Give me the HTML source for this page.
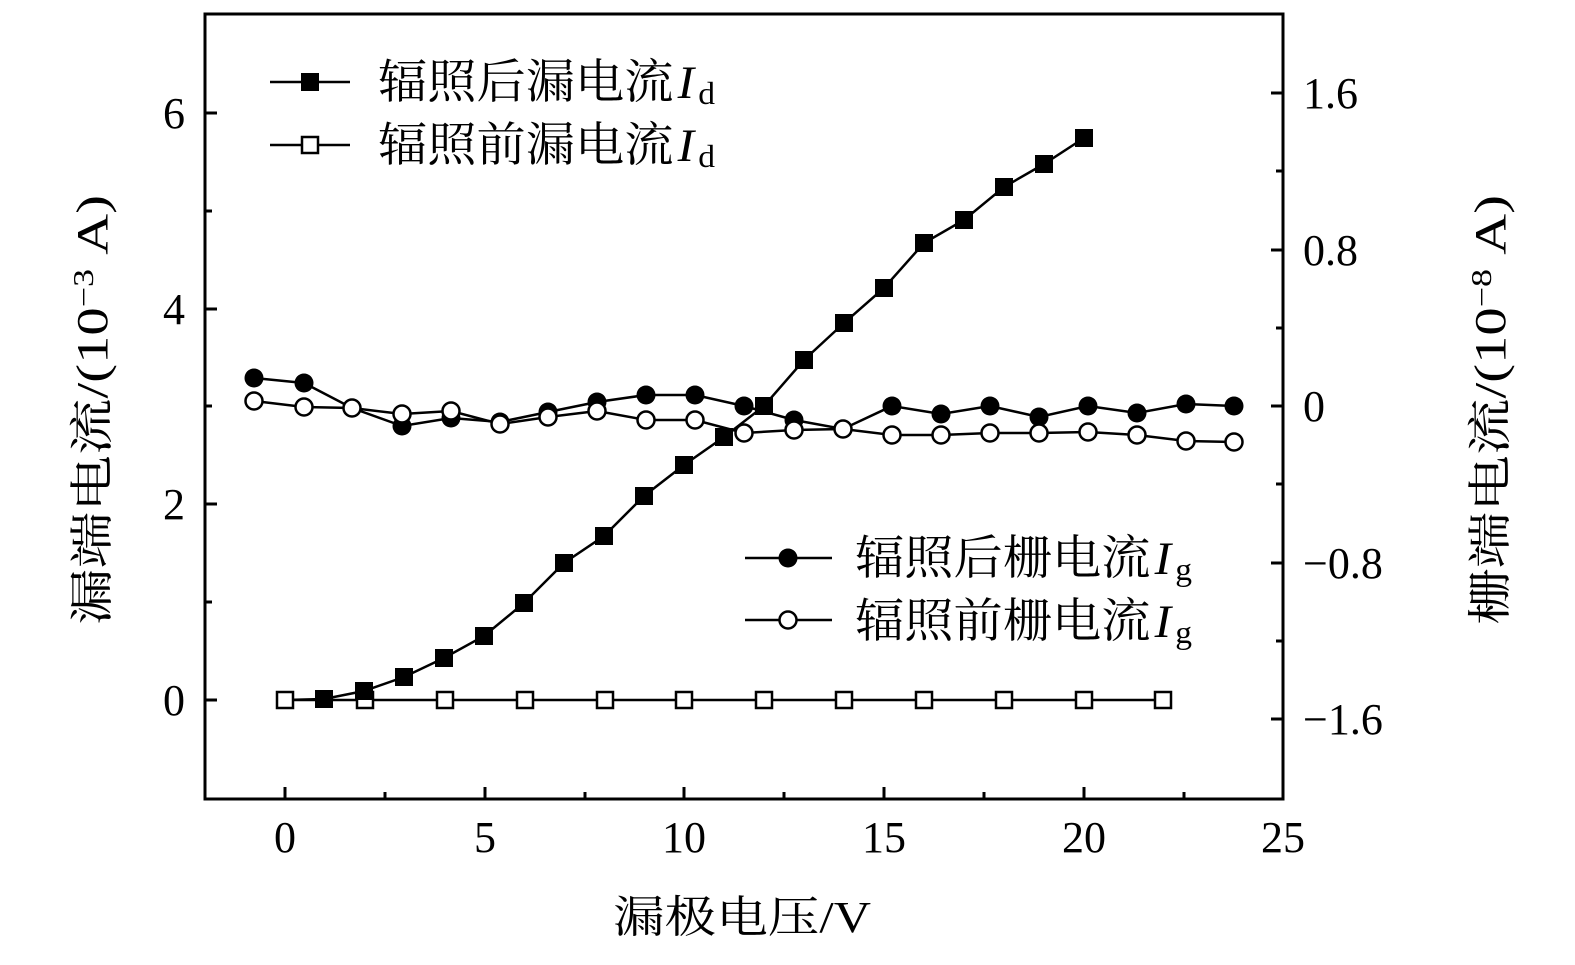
<!DOCTYPE html>
<html><head><meta charset="utf-8"><style>
html,body{margin:0;padding:0;background:#fff;}
svg{display:block;}
text{font-family:"Liberation Serif","Noto Serif CJK SC",serif;fill:#000;}
</style></head><body>
<svg width="1575" height="965" viewBox="0 0 1575 965" xmlns="http://www.w3.org/2000/svg">
<rect x="205" y="14" width="1078" height="785" fill="none" stroke="#000" stroke-width="3"/>
<g stroke="#000" stroke-width="3">
<line x1="285" y1="799" x2="285" y2="787"/><line x1="485" y1="799" x2="485" y2="787"/><line x1="684" y1="799" x2="684" y2="787"/><line x1="884" y1="799" x2="884" y2="787"/><line x1="1084" y1="799" x2="1084" y2="787"/>
<line x1="385" y1="799" x2="385" y2="792"/><line x1="585" y1="799" x2="585" y2="792"/><line x1="784" y1="799" x2="784" y2="792"/><line x1="984" y1="799" x2="984" y2="792"/><line x1="1184" y1="799" x2="1184" y2="792"/>
<line x1="205" y1="700" x2="217" y2="700"/><line x1="205" y1="504" x2="217" y2="504"/><line x1="205" y1="309" x2="217" y2="309"/><line x1="205" y1="113" x2="217" y2="113"/>
<line x1="205" y1="602" x2="212" y2="602"/><line x1="205" y1="406" x2="212" y2="406"/><line x1="205" y1="211" x2="212" y2="211"/>
<line x1="1283" y1="93" x2="1271" y2="93"/><line x1="1283" y1="250" x2="1271" y2="250"/><line x1="1283" y1="406" x2="1271" y2="406"/><line x1="1283" y1="563" x2="1271" y2="563"/><line x1="1283" y1="719" x2="1271" y2="719"/>
<line x1="1283" y1="171" x2="1276" y2="171"/><line x1="1283" y1="328" x2="1276" y2="328"/><line x1="1283" y1="484" x2="1276" y2="484"/><line x1="1283" y1="641" x2="1276" y2="641"/>
</g>
<g font-size="44">
<text x="285" y="852" text-anchor="middle">0</text><text x="485" y="852" text-anchor="middle">5</text><text x="684" y="852" text-anchor="middle">10</text><text x="884" y="852" text-anchor="middle">15</text><text x="1084" y="852" text-anchor="middle">20</text><text x="1283" y="852" text-anchor="middle">25</text>
<text x="185" y="715" text-anchor="end">0</text><text x="185" y="519" text-anchor="end">2</text><text x="185" y="324" text-anchor="end">4</text><text x="185" y="128" text-anchor="end">6</text>
<text x="1303" y="108">1.6</text><text x="1303" y="265">0.8</text><text x="1303" y="421">0</text><text x="1303" y="578">−0.8</text><text x="1303" y="734">−1.6</text>
</g>
<text x="742" y="932" font-size="44" text-anchor="middle" textLength="258" lengthAdjust="spacingAndGlyphs">漏极电压/V</text>
<text transform="translate(107,410) rotate(-90)" font-size="44" text-anchor="middle" textLength="430" lengthAdjust="spacingAndGlyphs">漏端电流/(10<tspan font-size="28" dy="-14">−3</tspan><tspan dy="14"> A)</tspan></text>
<text transform="translate(1505,410) rotate(-90)" font-size="44" text-anchor="middle" textLength="430" lengthAdjust="spacingAndGlyphs">栅端电流/(10<tspan font-size="28" dy="-14">−8</tspan><tspan dy="14"> A)</tspan></text>
<g fill="none" stroke="#000" stroke-width="2.5">
<polyline points="285,700 324,699 364,691 404,677 444,658 484,636 524,603 564,563 604,536 644,496 684,465 724,437 764,406 804,360 844,323 884,288 924,243 964,220 1004,187 1044,164 1084,138"/>
<polyline points="285,700 1163,700"/>
<polyline points="254,378 304,383 352,408 402,426 451,418 500,422 548,412 597,402 646,395 695,395 744,406 794,420 843,429 892,406 941,414 990,406 1039,417 1088,406 1137,413 1186,404 1234,406"/>
<polyline points="254,401 304,407 352,408 402,414 451,411 500,424 548,417 597,411 646,420 695,420 744,433 794,430 843,429 892,435 941,435 990,433 1039,433 1088,432 1137,435 1186,441 1234,442"/>
</g>
<g fill="#fff" stroke="#000" stroke-width="2.5">
<rect x="277" y="692" width="16" height="16"/><rect x="357" y="692" width="16" height="16"/><rect x="437" y="692" width="16" height="16"/><rect x="517" y="692" width="16" height="16"/><rect x="597" y="692" width="16" height="16"/><rect x="676" y="692" width="16" height="16"/><rect x="756" y="692" width="16" height="16"/><rect x="836" y="692" width="16" height="16"/><rect x="916" y="692" width="16" height="16"/><rect x="996" y="692" width="16" height="16"/><rect x="1076" y="692" width="16" height="16"/><rect x="1155" y="692" width="16" height="16"/>
</g>
<g fill="#000">
<rect x="315" y="690" width="18" height="18"/><rect x="355" y="682" width="18" height="18"/><rect x="395" y="668" width="18" height="18"/><rect x="435" y="649" width="18" height="18"/><rect x="475" y="627" width="18" height="18"/><rect x="515" y="594" width="18" height="18"/><rect x="555" y="554" width="18" height="18"/><rect x="595" y="527" width="18" height="18"/><rect x="635" y="487" width="18" height="18"/><rect x="675" y="456" width="18" height="18"/><rect x="715" y="428" width="18" height="18"/><rect x="755" y="397" width="18" height="18"/><rect x="795" y="351" width="18" height="18"/><rect x="835" y="314" width="18" height="18"/><rect x="875" y="279" width="18" height="18"/><rect x="915" y="234" width="18" height="18"/><rect x="955" y="211" width="18" height="18"/><rect x="995" y="178" width="18" height="18"/><rect x="1035" y="155" width="18" height="18"/><rect x="1075" y="129" width="18" height="18"/>
</g>
<g fill="#000">
<circle cx="254" cy="378" r="9.5"/><circle cx="304" cy="383" r="9.5"/><circle cx="352" cy="408" r="9.5"/><circle cx="402" cy="426" r="9.5"/><circle cx="451" cy="418" r="9.5"/><circle cx="500" cy="422" r="9.5"/><circle cx="548" cy="412" r="9.5"/><circle cx="597" cy="402" r="9.5"/><circle cx="646" cy="395" r="9.5"/><circle cx="695" cy="395" r="9.5"/><circle cx="744" cy="406" r="9.5"/><circle cx="794" cy="420" r="9.5"/><circle cx="843" cy="429" r="9.5"/><circle cx="892" cy="406" r="9.5"/><circle cx="941" cy="414" r="9.5"/><circle cx="990" cy="406" r="9.5"/><circle cx="1039" cy="417" r="9.5"/><circle cx="1088" cy="406" r="9.5"/><circle cx="1137" cy="413" r="9.5"/><circle cx="1186" cy="404" r="9.5"/><circle cx="1234" cy="406" r="9.5"/>
</g>
<g fill="#fff" stroke="#000" stroke-width="2.5">
<circle cx="254" cy="401" r="8.5"/><circle cx="304" cy="407" r="8.5"/><circle cx="352" cy="408" r="8.5"/><circle cx="402" cy="414" r="8.5"/><circle cx="451" cy="411" r="8.5"/><circle cx="500" cy="424" r="8.5"/><circle cx="548" cy="417" r="8.5"/><circle cx="597" cy="411" r="8.5"/><circle cx="646" cy="420" r="8.5"/><circle cx="695" cy="420" r="8.5"/><circle cx="744" cy="433" r="8.5"/><circle cx="794" cy="430" r="8.5"/><circle cx="843" cy="429" r="8.5"/><circle cx="892" cy="435" r="8.5"/><circle cx="941" cy="435" r="8.5"/><circle cx="990" cy="433" r="8.5"/><circle cx="1039" cy="433" r="8.5"/><circle cx="1088" cy="432" r="8.5"/><circle cx="1137" cy="435" r="8.5"/><circle cx="1186" cy="441" r="8.5"/><circle cx="1234" cy="442" r="8.5"/>
</g>
<g stroke="#000" stroke-width="2.5">
<line x1="270" y1="82" x2="350" y2="82"/><line x1="270" y1="145" x2="350" y2="145"/>
<line x1="745" y1="558" x2="832" y2="558"/><line x1="745" y1="620" x2="832" y2="620"/>
</g>
<rect x="301" y="73" width="18" height="18" fill="#000"/>
<rect x="302" y="137" width="16" height="16" fill="#fff" stroke="#000" stroke-width="2.5"/>
<circle cx="788" cy="558" r="9.5" fill="#000"/>
<circle cx="788" cy="620" r="8.5" fill="#fff" stroke="#000" stroke-width="2.5"/>
<g font-size="47">
<text x="378" y="98" textLength="337" lengthAdjust="spacingAndGlyphs">辐照后漏电流<tspan font-style="italic" dx="4">I</tspan><tspan font-size="32" dy="6" dx="4">d</tspan></text>
<text x="378" y="161" textLength="337" lengthAdjust="spacingAndGlyphs">辐照前漏电流<tspan font-style="italic" dx="4">I</tspan><tspan font-size="32" dy="6" dx="4">d</tspan></text>
<text x="855" y="574" textLength="337" lengthAdjust="spacingAndGlyphs">辐照后栅电流<tspan font-style="italic" dx="4">I</tspan><tspan font-size="32" dy="6" dx="4">g</tspan></text>
<text x="855" y="637" textLength="337" lengthAdjust="spacingAndGlyphs">辐照前栅电流<tspan font-style="italic" dx="4">I</tspan><tspan font-size="32" dy="6" dx="4">g</tspan></text>
</g>
</svg>
</body></html>
